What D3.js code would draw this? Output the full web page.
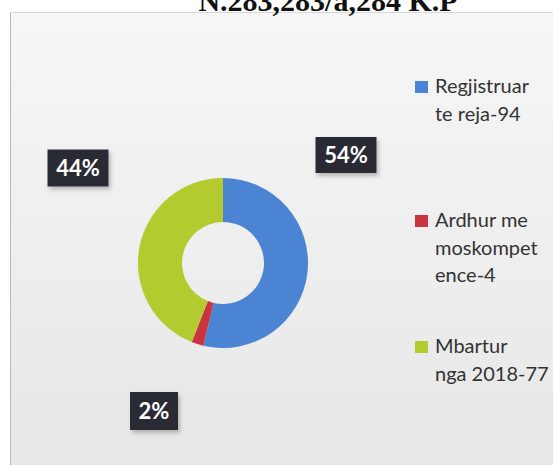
<!DOCTYPE html>
<html>
<head>
<meta charset="utf-8">
<script src="https://cdn.jsdelivr.net/npm/d3@7"></script>
<style>
  body { margin: 0; background: #fff; }
  svg { display: block; }
</style>
</head>
<body>
<script>
// data
var categories = ["Regjistruar te reja", "Ardhur me moskompetence", "Mbartur nga 2018"];
var values = [94, 4, 77];
var colors = ["#4a84d2", "#c9343f", "#b3cb2f"];
var legendLines = [["Regjistruar", "te reja-94"], ["Ardhur me", "moskompet", "ence-4"], ["Mbartur", "nga 2018-77"]];
var title = "N.283,283/a,284 K.P";

var width = 553, height = 465;
var cx = 223, cy = 263, outerR = 85, innerR = 41;

// hand placed label boxes (centre x, centre y, width, height)
var labelBoxes = [[346, 155, 61, 36], [154, 411, 48, 38], [78, 168, 61, 37]];

var svg = d3.select("body").append("svg")
  .attr("width", width)
  .attr("height", height);

var defs = svg.append("defs");
var grad = defs.append("linearGradient")
  .attr("id", "bg")
  .attr("x1", 0).attr("y1", 0).attr("x2", 0).attr("y2", 1);
grad.append("stop").attr("offset", "0%").attr("stop-color", "#f6f6f6");
grad.append("stop").attr("offset", "100%").attr("stop-color", "#e7e7e7");

var shadow = defs.append("filter").attr("id", "shadow")
  .attr("x", "-20%").attr("y", "-20%").attr("width", "150%").attr("height", "160%");
shadow.append("feDropShadow")
  .attr("dx", 2).attr("dy", 3).attr("stdDeviation", 2)
  .attr("flood-color", "#777").attr("flood-opacity", 0.5);

// panel
svg.append("rect")
  .attr("x", 10).attr("y", 12)
  .attr("width", width - 10).attr("height", height - 12)
  .attr("fill", "url(#bg)");
svg.append("line")
  .attr("x1", 10.5).attr("x2", 10.5).attr("y1", 12).attr("y2", height)
  .attr("stroke", "#b9b9b9");
svg.append("line")
  .attr("x1", 10).attr("x2", width).attr("y1", 12.5).attr("y2", 12.5)
  .attr("stroke", "#d8d8d8");

// title, mostly cut off at the top like in the scan
svg.append("text")
  .attr("x", 328).attr("y", 11)
  .attr("text-anchor", "middle")
  .style("font-family", "'Liberation Serif', 'Times New Roman', serif")
  .style("font-weight", "bold")
  .style("font-size", "30px")
  .attr("fill", "#111")
  .text(title);

// donut
var pie = d3.pie().sort(null).value(function(d) { return d; });
var arc = d3.arc().innerRadius(innerR).outerRadius(outerR);
var arcs = pie(values);

svg.append("g")
  .attr("transform", "translate(" + cx + "," + cy + ")")
  .selectAll("path")
  .data(arcs)
  .enter()
  .append("path")
  .attr("d", arc)
  .attr("fill", function(d, i) { return colors[i]; });

// percentage boxes
var total = d3.sum(values);
var lbl = svg.selectAll(".lbl")
  .data(values)
  .enter()
  .append("g")
  .attr("class", "lbl")
  .attr("transform", function(d, i) {
    return "translate(" + labelBoxes[i][0] + "," + labelBoxes[i][1] + ")";
  });

lbl.append("rect")
  .attr("x", function(d, i) { return -labelBoxes[i][2] / 2; })
  .attr("y", function(d, i) { return -labelBoxes[i][3] / 2; })
  .attr("width", function(d, i) { return labelBoxes[i][2]; })
  .attr("height", function(d, i) { return labelBoxes[i][3]; })
  .attr("fill", "#2c2c34")
  .attr("filter", "url(#shadow)");

lbl.append("text")
  .attr("text-anchor", "middle")
  .attr("dy", "0.36em")
  .attr("fill", "#fff")
  .style("font-family", "Lato, 'Open Sans', sans-serif")
  .style("font-weight", "bold")
  .style("font-size", "22px")
  .text(function(d) { return Math.round(d / total * 100) + "%"; });

// legend
var legendTop = [93, 227, 353];
var legend = svg.selectAll(".legend")
  .data(legendLines)
  .enter()
  .append("g")
  .attr("class", "legend")
  .attr("transform", function(d, i) { return "translate(415," + legendTop[i] + ")"; });

legend.append("rect")
  .attr("x", 0).attr("y", -12)
  .attr("width", 13).attr("height", 12)
  .attr("fill", function(d, i) { return colors[i]; });

legend.append("text")
  .attr("x", 20)
  .attr("fill", "#333")
  .style("font-family", "Lato, 'Open Sans', sans-serif")
  .style("font-size", "20px")
  .selectAll("tspan")
  .data(function(d) { return d; })
  .enter()
  .append("tspan")
  .attr("x", 20)
  .attr("y", function(d, j) { return j * 27.5; })
  .text(function(d) { return d; });
</script>
</body>
</html>
